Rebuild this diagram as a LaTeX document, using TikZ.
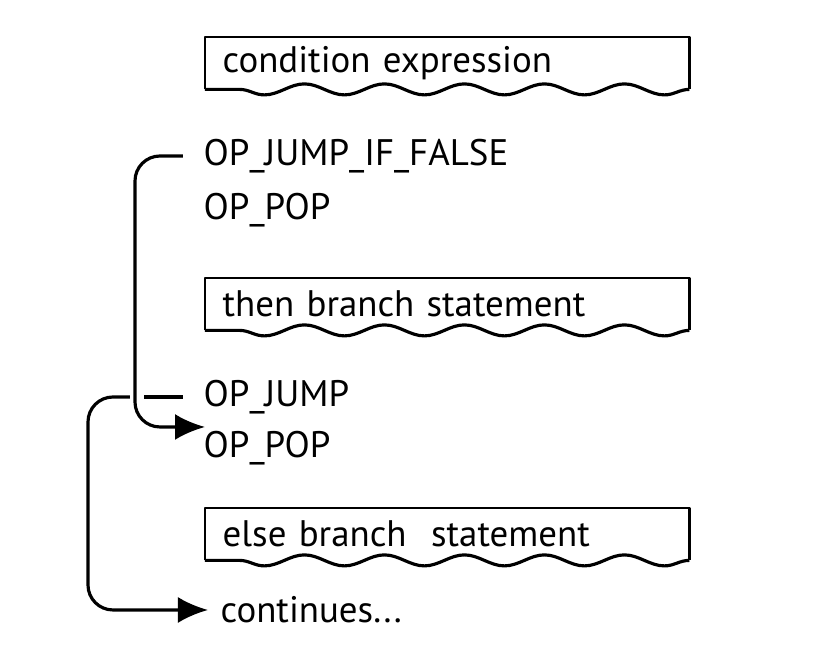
\documentclass[tikz,border=0pt]{standalone}
\usepackage{fontspec}
\setmainfont{PT Sans}
\usetikzlibrary{arrows.meta,decorations.pathmorphing}
\tikzset{
    op/.style={anchor=west, inner sep=0pt, font=\fontsize{10.5}{12}\selectfont},
    tornbox/.style={anchor=north west, inner xsep=0.17cm, inner ysep=0pt,
        text width=4.49cm, minimum height=0.51cm, align=left,
        font=\fontsize{10.5}{12}\selectfont},
    flow/.style={line width=0.9pt, rounded corners=2.5mm, -{Latex[length=3mm, width=2.6mm]}}
}
\begin{document}
\begin{tikzpicture}
    \useasboundingbox (0, 0) rectangle (8.39, -6.68);
    \node[tornbox] (cond) at (2.05, -0.37) {condition expression};
    \node[op] (jif) at (2.03, -1.56) {OP\_JUMP\_IF\_FALSE};
    \node[op] (pop1) at (2.03, -2.10) {OP\_POP};
    \node[tornbox] (thenb) at (2.05, -2.78) {then branch statement};
    \node[op] (jmp) at (2.03, -3.97) {OP\_JUMP};
    \node[op] (pop2) at (2.03, -4.48) {OP\_POP};
    \node[tornbox] (elseb) at (2.05, -5.08) {else branch\ \ statement};
    \node[op] (cont) at (2.20, -6.10) {continues...};
    \foreach \b in {cond, thenb, elseb}{
        \draw[line width=0.8pt, line join=round] (\b.south west) -- (\b.north west) -- (\b.north east) -- (\b.south east);
        \draw[line width=0.9pt, decorate, decoration={snake, segment length=8mm, amplitude=0.55mm}] (\b.south east) -- (\b.south west);
    }
    \draw[flow] ([xshift=-2mm]jif.west) -- ++(-0.48, 0) |- ([shift={(0.02, 0.21)}]pop2.west);
    \draw[line width=0.9pt] ([xshift=-2mm]jmp.west) -- ++(-0.39, 0);
    \draw[flow] ([xshift=-7.3mm]jmp.west) -- ++(-0.42, 0) |- ([xshift=-1.2mm]cont.west);
\end{tikzpicture}
\end{document}
